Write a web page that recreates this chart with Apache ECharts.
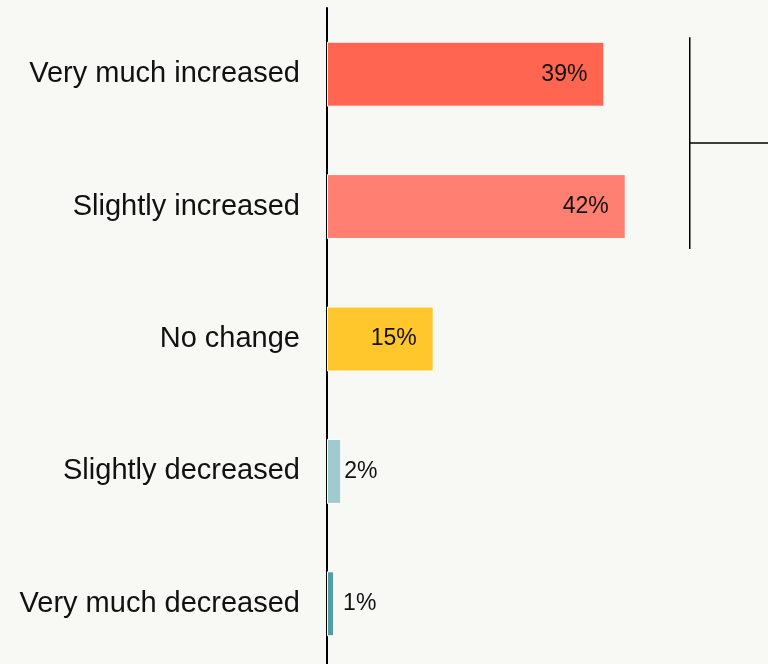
<!DOCTYPE html>
<html>
<head>
<meta charset="utf-8">
<script src="https://cdn.jsdelivr.net/npm/echarts@6/dist/echarts.min.js"></script>
<style>
  html, body { margin: 0; padding: 0; background: #f8f8f4; }
  #main { width: 768px; height: 664px; }
</style>
</head>
<body>
<div id="main"></div>
<script>
  // data
  var categories = ['Very much increased', 'Slightly increased', 'No change', 'Slightly decreased', 'Very much decreased'];
  var shares = [39, 42, 15, 2, 1];
  var barColors = ['#ff6550', '#ff7f73', '#ffc72c', '#9fcbcf', '#549ea3'];
  // bracket grouping the two "increased" answers
  var bracket = [[51, 0, 1]];

  var chart = echarts.init(document.getElementById('main'));

  var barData = shares.map(function (v, i) {
    var inside = v >= 10;
    return {
      value: v,
      itemStyle: { color: barColors[i] },
      label: {
        position: inside ? 'insideRight' : 'right',
        distance: inside ? 17 : (v < 2 ? 9 : 3)
      }
    };
  });

  var option = {
    backgroundColor: '#f8f8f4',
    animation: false,
    grid: { left: 327, right: 0, top: 8, height: 662, outerBoundsMode: 'none' },
    xAxis: {
      type: 'value',
      min: 0,
      max: 62,
      show: false
    },
    yAxis: {
      type: 'category',
      inverse: true,
      data: categories,
      axisLine: { show: true, lineStyle: { color: '#000', width: 2 } },
      axisTick: { show: false },
      axisLabel: {
        margin: 27,
        fontSize: 29,
        color: '#111',
        fontFamily: 'Liberation Sans, Arial, sans-serif'
      }
    },
    series: [
      {
        type: 'bar',
        barWidth: 65,
        data: barData,
        itemStyle: { borderColor: '#ffffff', borderWidth: 1 },
        label: {
          show: true,
          formatter: '{c}%',
          fontSize: 23,
          color: '#111',
          fontFamily: 'Liberation Sans, Arial, sans-serif'
        },
        z: 1
      },
      {
        type: 'custom',
        data: bracket,
        renderItem: function (params, api) {
          var top = api.coord([api.value(0), api.value(1)]);
          var bot = api.coord([api.value(0), api.value(2)]);
          var band = api.size([0, 1])[1];
          var y0 = top[1] - band * 0.28;
          var y1 = bot[1] + band * 0.32;
          var x = top[0];
          var style = { stroke: '#000', lineWidth: 1.5 };
          return {
            type: 'group',
            children: [
              { type: 'line', shape: { x1: x, y1: y0, x2: x, y2: y1 }, style: style },
              { type: 'line', shape: { x1: x, y1: (y0 + y1) / 2, x2: api.getWidth(), y2: (y0 + y1) / 2 }, style: style }
            ]
          };
        },
        z: 2
      }
    ]
  };
  chart.setOption(option);
</script>
</body>
</html>
